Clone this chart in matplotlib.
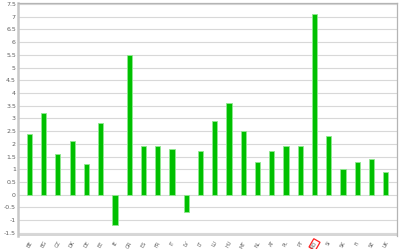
import matplotlib
matplotlib.use('Agg')
import matplotlib.pyplot as plt
from matplotlib.patches import Rectangle
from matplotlib.ticker import FuncFormatter, MultipleLocator

countries = ['BE', 'BG', 'CZ', 'DK', 'DE', 'EE', 'IE', 'GR', 'ES', 'FR', 'IT', 'LV', 'LT',
             'LU', 'HU', 'MT', 'NL', 'AT', 'PL', 'PT', 'RO', 'SI', 'SK', 'FI', 'SE', 'UK']
values = [2.4, 3.2, 1.6, 2.1, 1.2, 2.8, -1.2, 5.5, 1.9, 1.9, 1.8, -0.7, 1.7,
          2.9, 3.6, 2.5, 1.3, 1.7, 1.9, 1.9, 7.1, 2.3, 1.0, 1.3, 1.4, 0.9]
highlight = 'RO'

fig = plt.figure(figsize=(4.0, 2.49), dpi=100)
ax = fig.add_axes([0.045, 0.052, 0.948, 0.936])

x = range(len(countries))
ax.bar(x, values, width=0.36, color='#00c000', edgecolor='#90e890', linewidth=0.6, zorder=3)

ax.set_xlim(-0.8, len(countries) - 0.2)
ax.set_ylim(-1.63, 7.54)
ax.yaxis.set_major_locator(MultipleLocator(0.5))
ax.yaxis.set_major_formatter(FuncFormatter(lambda v, p: f'{v:g}'))
ax.grid(axis='y', color='#d8d8d8', linewidth=0.8, zorder=0)

ax.set_xticks(list(x))
ax.set_xticklabels(countries, rotation=60, fontsize=3.6, color='#606060', ha='center')
ax.tick_params(axis='both', length=0, pad=1.5)
ax.tick_params(axis='y', labelsize=4.5, labelcolor='#606060')
ax.tick_params(axis='x', pad=3)

for lbl in ax.get_xticklabels():
    if lbl.get_text() == highlight:
        lbl.set_bbox(dict(facecolor='none', edgecolor='#ff2020', linewidth=0.9, pad=0.8))

for side in ['top', 'right']:
    ax.spines[side].set_color('#b4b4b4')
    ax.spines[side].set_linewidth(0.9)
ax.spines['left'].set_color('#c8c8c8')
ax.spines['left'].set_linewidth(1.8)
ax.spines['bottom'].set_visible(False)

# floor band at bottom
ax.add_patch(Rectangle((0, 0), 1, 0.012, transform=ax.transAxes, facecolor='#d6d6d6',
                       edgecolor='none', clip_on=False, zorder=1))

fig.savefig('out.png', dpi=100)
